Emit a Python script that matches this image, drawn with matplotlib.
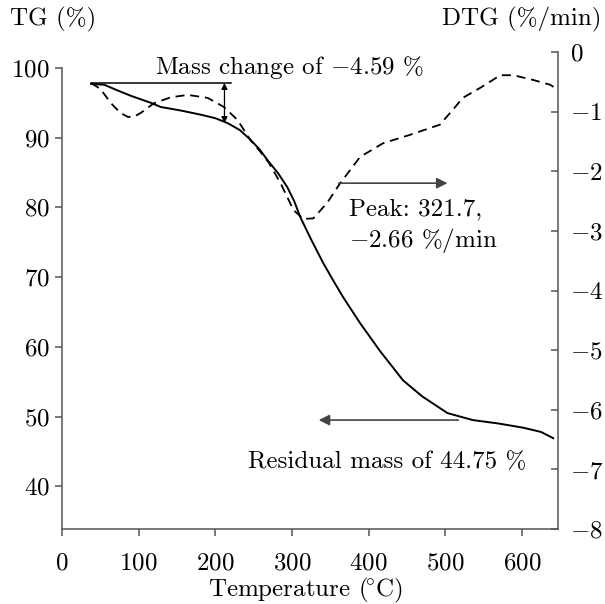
import matplotlib
matplotlib.use("Agg")
import matplotlib.pyplot as plt

plt.rcParams["font.family"] = ["cmr10", "DejaVu Serif"]
plt.rcParams["mathtext.fontset"] = "cm"
plt.rcParams["axes.formatter.use_mathtext"] = True
plt.rcParams["font.size"] = 18

# TG curve (solid)
tg_temp = [38, 55, 72, 90, 116, 129, 155, 181, 200, 216, 232, 246, 258, 268,
           282, 294, 303, 311, 326, 341, 354, 367, 389, 415, 445, 470, 503,
           536, 570, 602, 625, 641]
tg_mass = [97.7, 97.6, 96.8, 96.0, 95.0, 94.4, 93.9, 93.3, 92.8, 92.1, 91.1,
           89.7, 88.3, 86.8, 84.9, 82.9, 80.9, 78.6, 75.2, 72.0, 69.5, 67.1,
           63.4, 59.4, 55.2, 52.9, 50.5, 49.5, 49.0, 48.4, 47.8, 46.9]

# DTG curve (dashed)
dtg_temp = [38, 50, 64, 76, 86, 95, 103, 120, 142, 164, 190, 211, 229, 246,
            258, 270, 286, 302, 315, 328, 346, 363, 389, 419, 454, 493, 510,
            523, 546, 572, 589, 615, 637, 643]
dtg_rate = [-0.52, -0.62, -0.86, -1.02, -1.09, -1.08, -1.02, -0.86, -0.76,
            -0.72, -0.77, -0.92, -1.14, -1.48, -1.66, -1.86, -2.22, -2.65,
            -2.80, -2.79, -2.53, -2.20, -1.76, -1.53, -1.39, -1.22, -0.97,
            -0.77, -0.60, -0.39, -0.39, -0.47, -0.55, -0.60]

x_ticks = [0, 100, 200, 300, 400, 500, 600]
tg_ticks = [40, 50, 60, 70, 80, 90, 100]
dtg_ticks = [0, -1, -2, -3, -4, -5, -6, -7, -8]

# annotations
mass_ref_level = 97.85
mass_ref_span = (38, 220)
mass_arrow_temp = 212
mass_arrow_low = 92.1
peak_arrow = (361, 503, -2.20)        # from, to, DTG level
residual_arrow = (517, 335, 49.5)     # from, to, TG level

fig = plt.figure(figsize=(6.05, 6.04), dpi=100)
ax = fig.add_axes([0.1025, 0.124, 0.8195, 0.79])
ax2 = ax.twinx()

ax.plot(tg_temp, tg_mass, color="black", lw=1.4, solid_joinstyle="round")
ax2.plot(dtg_temp, dtg_rate, color="black", lw=1.3, dashes=(5, 3.2))

ax.set_xlim(0, 647)
ax.set_ylim(33.86, 102.3)
ax2.set_ylim(-8, 0)

spine_col = "#555555"
for a in (ax, ax2):
    a.spines["top"].set_visible(False)
    for s in a.spines.values():
        s.set_color(spine_col)
        s.set_linewidth(1.1)
ax.spines["right"].set_visible(False)
ax2.spines["left"].set_visible(False)
ax2.spines["bottom"].set_visible(False)
ax.spines["left"].set_bounds(33.86, 100)

ax.set_xticks(x_ticks)
ax.set_yticks(tg_ticks)
ax2.set_yticks(dtg_ticks)
ax.tick_params(axis="both", direction="out", length=5, width=1.1,
               color=spine_col, pad=4)
ax.tick_params(axis="x", pad=12)
ax2.tick_params(axis="y", direction="in", length=5, width=1.1,
                color=spine_col, pad=9)

fig.text(10 / 605, 1 - 19 / 604, "TG (%)", ha="left", va="center")
fig.text(601 / 605, 1 - 19 / 604, "DTG (%/min)", ha="right", va="center")
fig.text(305 / 605, 1 - 590 / 604, r"Temperature ($\!^{\circ}$C)",
         ha="center", va="center")

# mass change marker
ax.plot(mass_ref_span, [mass_ref_level] * 2, color="black", lw=1.1)
ax.annotate("", xy=(mass_arrow_temp, mass_arrow_low),
            xytext=(mass_arrow_temp, mass_ref_level),
            arrowprops=dict(arrowstyle="<|-|>", color="black", lw=0.9,
                            mutation_scale=9, shrinkA=0, shrinkB=0))
ax.text(121, 100.0, r"Mass change of $-$4.59 %", ha="left", va="center")

# peak marker
ax2.annotate("", xy=(peak_arrow[1], peak_arrow[2]),
             xytext=(peak_arrow[0], peak_arrow[2]),
             arrowprops=dict(arrowstyle="-|>", color="#444444", lw=1.2,
                             mutation_scale=16, shrinkA=0, shrinkB=0))
ax2.text(374, -2.93, "Peak: 321.7,\n" + r"$-$2.66 %/min", ha="left",
         va="center", linespacing=1.25)

# residual mass marker
ax.annotate("", xy=(residual_arrow[1], residual_arrow[2]),
            xytext=(residual_arrow[0], residual_arrow[2]),
            arrowprops=dict(arrowstyle="-|>", color="#444444", lw=1.2,
                            mutation_scale=16, shrinkA=0, shrinkB=0))
ax.text(243, 43.5, "Residual mass of 44.75 %", ha="left", va="center")

fig.savefig("out.png", dpi=100)
